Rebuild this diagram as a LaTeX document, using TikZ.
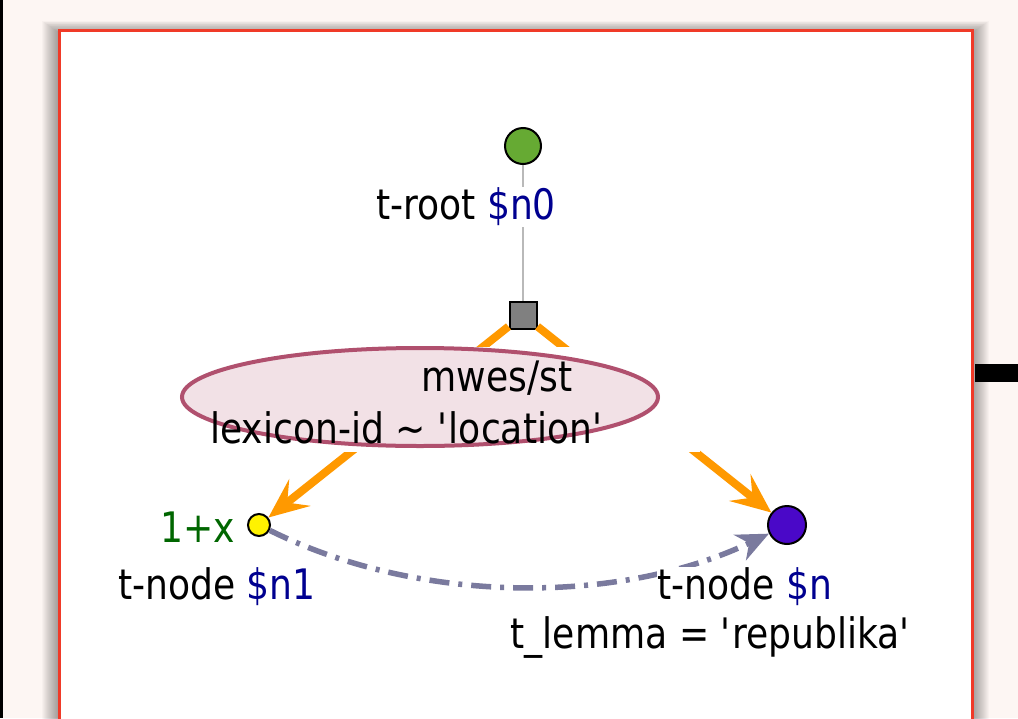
\documentclass[tikz,border=0pt]{standalone}
\usepackage{fontspec}
\setmainfont{DejaVu Sans}[FakeStretch=0.86]
\usetikzlibrary{positioning,arrows.meta,shapes.geometric}
\definecolor{pagebg}{HTML}{FDF6F3}
\definecolor{boxred}{HTML}{F03A28}
\definecolor{rootgreen}{HTML}{66AA33}
\definecolor{nodepurple}{HTML}{4A08C8}
\definecolor{varblue}{HTML}{000090}
\definecolor{qgreen}{HTML}{006600}
\definecolor{edorange}{HTML}{FF9900}
\definecolor{ellfill}{HTML}{F2E1E6}
\definecolor{elldraw}{HTML}{B0506E}
\definecolor{coref}{HTML}{7A7A9E}
\begin{document}
\begin{tikzpicture}[x=1pt,y=-1pt,
  tn/.style={circle,draw=black,line width=2pt,inner sep=0pt},
  txt/.style={inner sep=1pt,font=\fontsize{42}{48}\selectfont},
  lbl/.style={txt,fill=white},
  ed/.style={line width=8pt,draw=edorange,-{Stealth[length=40pt,width=34pt,inset=16pt]}},
  corefed/.style={line width=5.5pt,draw=coref,dash pattern=on 20pt off 9pt on 4pt off 9pt,-{Stealth[length=32pt,width=28pt,inset=10pt]}}]
  \useasboundingbox (0,0) rectangle (1018,718);
  \fill[pagebg] (0,0) rectangle (1018,718);
  \fill[black] (0,0) rectangle (3,718);
  % shadow of the box
  \foreach \s in {1,2,...,16}
    \fill[black,opacity=0.022] (58-\s,32-0.7*\s) rectangle (973+\s,740);
  \fill[black] (975,364) rectangle (1018,382);
  \draw[boxred,fill=white,line width=3pt] (59,30) rectangle (972,740);

  \node[tn,fill=rootgreen,minimum size=36pt] (n0) at (523,146) {};
  \node[draw=black,line width=2pt,fill=gray,minimum size=27pt,inner sep=0pt] (st) at (523,315) {};
  \node[tn,fill=yellow,minimum size=22pt] (n1) at (259,525) {};
  \node[tn,fill=nodepurple,minimum size=38pt] (n) at (787,525) {};

  \draw[gray!55,line width=2.5pt] (n0) -- (st);
  \node[lbl] (n0lbl) at (466,207) {t-root \textcolor{varblue}{\$n0}};
  \draw[ed] (st) -- (n1);
  \draw[ed] (st) -- (n);
  \draw[corefed] (n1) .. controls (420,605) and (620,605) .. (n);

  % relation with its label
  \fill[white] (205,347) rectangle (700,452);
  \node[ellipse,draw=elldraw,line width=4pt,fill=ellfill,minimum width=476pt,minimum height=98pt] (mwe) at (420,397) {};
  \node[txt] (mwename) at (497,378) {mwes/st};
  \node[txt] (mwecond) at (407,428) {lexicon-id \textasciitilde{} \textquotesingle location\textquotesingle};

  \node[lbl,text=qgreen] (q1) at (198,527) {1+x};
  \node[lbl] (n1lbl) at (217,587) {t-node \textcolor{varblue}{\$n1}};
  \node[lbl] (nlbl) at (745,587) {t-node \textcolor{varblue}{\$n}};
  \node[lbl] (ncond) at (711,637) {t\_lemma = \textquotesingle republika\textquotesingle};
\end{tikzpicture}
\end{document}
